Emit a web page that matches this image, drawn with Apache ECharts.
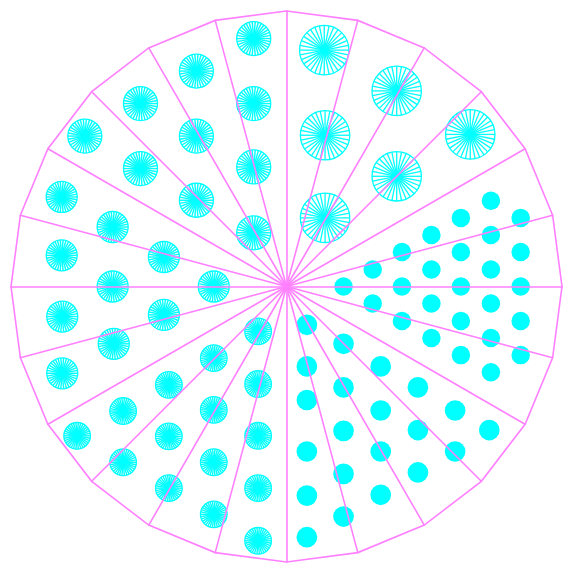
<!DOCTYPE html>
<html>
<head>
<meta charset="utf-8">
<script src="https://cdn.jsdelivr.net/npm/echarts@6/dist/echarts.min.js"></script>
<style>
html,body{margin:0;padding:0;background:#fff;}
#chart{width:573px;height:572px;}
</style>
</head>
<body>
<div id="chart"></div>
<script>
// Polygon sectors (24 spokes)
const sectorCount = 24;

// Group A: large starbursts (upper right)
const aX = [13.7, 40.0, 14.0, 66.7, 40.0, 14.0];
const aY = [85.8, 71.0, 54.9, 55.2, 40.0, 24.9];

// Group E: upper-left starbursts
const eX = [-11.9, -32.7, -11.9, -53.0, -32.7, -73.2, -11.9, -53.0, -32.7, -11.9];
const eY = [90.0, 78.2, 66.4, 66.4, 54.6, 54.6, 43.4, 42.8, 31.3, 19.5];

// Group F: left starbursts
const fX = [-81.6, -63.1, -44.5, -26.4, -81.6, -63.1, -44.5, -81.4, -62.7, -81.4];
const fY = [32.5, 21.6, 10.7, 0.0, 11.3, 0.0, -10.3, -10.9, -20.8, -31.5];

// Group G: lower-left starbursts
const gX = [-10.3, -10.3, -10.3, -10.3, -10.3, -26.4, -26.4, -26.4, -26.4, -42.7, -42.7, -42.7, -59.3, -59.3, -76.0];
const gY = [-16.3, -35.4, -54.2, -73.2, -92.3, -26.0, -44.8, -63.8, -82.7, -35.7, -54.4, -73.2, -45.2, -63.8, -54.2];

// Group B: right filled circles
const bX = [20.7, 31.3, 31.3, 41.9, 41.9, 41.9, 52.6, 52.6, 52.6, 52.6,
            63.3, 63.3, 63.3, 63.3, 63.3, 74.2, 74.2, 74.2, 74.2, 74.2, 74.2,
            85.0, 85.0, 85.0, 85.0, 85.0];
const bY = [0.0, 6.2, -6.2, 12.5, 0.0, -12.5, 18.7, 6.2, -6.2, -18.7,
            24.9, 12.5, 0.0, -12.5, -24.9, 31.1, 18.7, 6.2, -6.2, -18.7, -31.1,
            24.9, 12.5, 0.0, -12.5, -24.9];

// Group C: lower-right filled circles
const cX = [7.4, 7.4, 7.4, 7.4, 7.4, 7.4, 20.7, 20.7, 20.7, 20.7, 20.7,
            34.2, 34.2, 34.2, 34.2, 47.7, 47.7, 47.7, 61.2, 61.2, 73.6];
const cY = [-13.9, -29.0, -41.2, -59.9, -75.9, -91.0, -20.8, -36.6, -52.4, -68.0, -83.5,
            -29.0, -45.0, -59.9, -75.6, -36.6, -52.1, -67.5, -45.0, -59.9, -52.1];

const CYAN = '#00ffff';
const MAGENTA = '#ff80ff';

function zip(xs, ys){ return xs.map((x,i)=>[x, ys[i]]); }

function starburst(radius, spokes, lw){
  return function(params, api){
    const c = api.coord([api.value(0), api.value(1)]);
    const children = [{
      type:'circle',
      shape:{cx:c[0], cy:c[1], r:radius},
      style:{fill:null, stroke:CYAN, lineWidth:1.3}
    }];
    for (let k=0;k<spokes;k++){
      const a = 2*Math.PI*k/spokes;
      children.push({
        type:'line',
        shape:{x1:c[0], y1:c[1], x2:c[0]+radius*Math.cos(a), y2:c[1]+radius*Math.sin(a)},
        style:{stroke:CYAN, lineWidth:lw}
      });
    }
    return {type:'group', children};
  };
}

const indicators = [];
for (let i=0;i<sectorCount;i++) indicators.push({name:'', max:100, min:0});

const chart = echarts.init(document.getElementById('chart'), null, {renderer:'canvas'});
chart.setOption({
  animation:false,
  backgroundColor:'#ffffff',
  grid:{left:11, top:11, width:551, height:551, show:false},
  xAxis:{type:'value', min:-100, max:100, show:false},
  yAxis:{type:'value', min:-100, max:100, show:false},
  radar:{
    z:10,
    center:[286.5, 286.5],
    radius:275.5,
    startAngle:90,
    shape:'polygon',
    splitNumber:1,
    indicator:indicators,
    axisName:{show:false},
    axisLine:{lineStyle:{color:MAGENTA, width:1.6}},
    splitLine:{lineStyle:{color:MAGENTA, width:1.6}},
    splitArea:{show:false},
    axisTick:{show:false},
    axisLabel:{show:false}
  },
  series:[
    {type:'custom', renderItem:starburst(24.7, 32, 1.3), data:zip(aX,aY), z:2},
    {type:'custom', renderItem:starburst(17, 34, 1.4), data:zip(eX,eY), z:2},
    {type:'custom', renderItem:starburst(15.5, 34, 1.4), data:zip(fX,fY), z:2},
    {type:'custom', renderItem:starburst(13.3, 34, 1.4), data:zip(gX,gY), z:2},
    {type:'scatter', symbol:'circle', symbolSize:18.5, data:zip(bX,bY), itemStyle:{color:CYAN, opacity:1}, z:2},
    {type:'scatter', symbol:'circle', symbolSize:20.7, data:zip(cX,cY), itemStyle:{color:CYAN, opacity:1}, z:2}
  ]
});
</script>
</body>
</html>
